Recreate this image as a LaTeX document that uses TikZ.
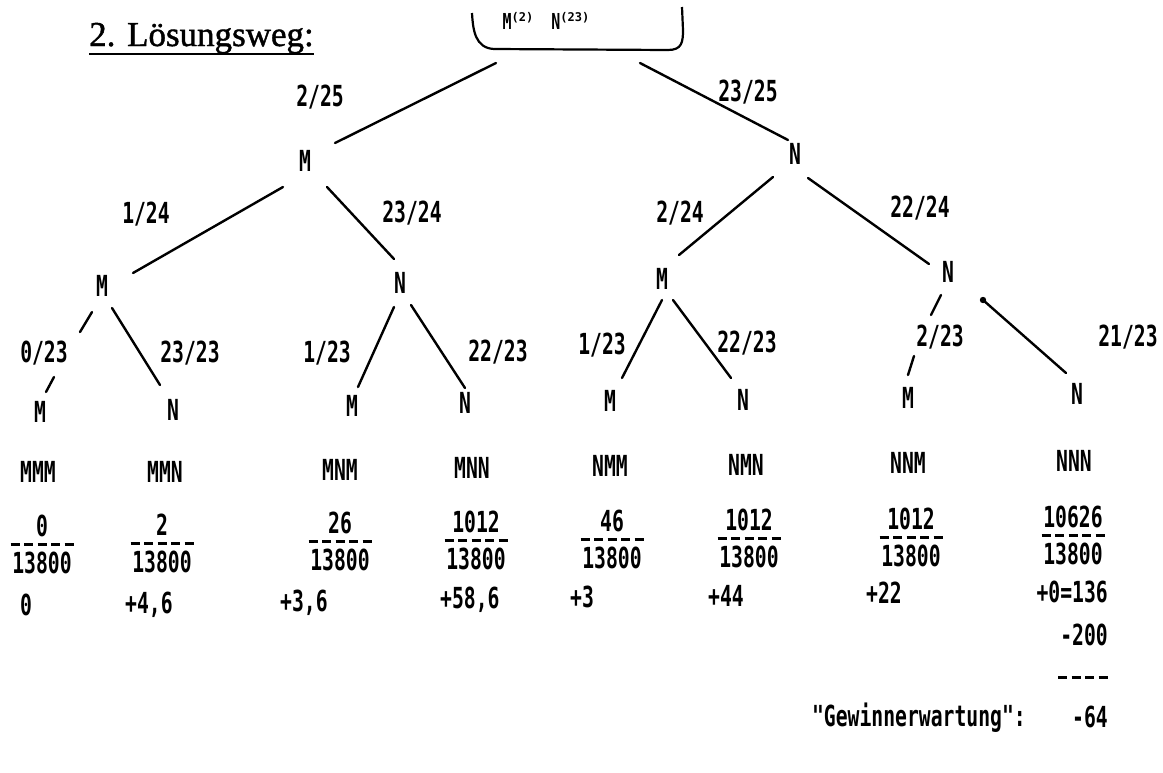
\documentclass[tikz,border=0pt]{standalone}
\usepackage{fontspec}
\usetikzlibrary{calc}
\newfontfamily\dmfont[FakeStretch=0.68]{DejaVu Sans Mono}
\newfontfamily\supfont{DejaVu Sans Mono}
\newfontfamily\titlefont[FakeBold=1.2]{Liberation Serif}
\newcommand{\supx}[1]{\raisebox{8pt}{\supfont\bfseries\fontsize{12}{12}\selectfont #1}}
\tikzset{
  dm/.style={font=\dmfont\bfseries\fontsize{29}{29}\selectfont, inner sep=0pt},
  rootfont/.style={font=\dmfont\bfseries\fontsize{22}{22}\selectfont, inner sep=0pt},
  dashbar/.style={line width=3pt, dash pattern=on 9pt off 4.5pt},
  edge/.style={line width=2.4pt, line cap=round},
}
\begin{document}
\begin{tikzpicture}[x=1pt,y=-1pt]
\useasboundingbox (0,0) rectangle (1163,772);
% title
\node[font=\titlefont\fontsize{35}{35}\selectfont, inner sep=0pt, anchor=base west] (title) at (89,46) {2. Lösungsweg:};
\draw[line width=2.4pt] ($(title.base west)+(0,8)$) -- ($(title.base east)+(0,8)$);
% root
\node[rootfont] (root) at (546,21) {M\supx{(2)}\hspace{18pt}N\supx{(23)}};
\draw[line width=2.2pt] (472,13) .. controls (473,30) and (475,48) .. (494,49) -- (668,50) .. controls (682,50) and (683,42) .. (683,30) -- (682,7);
% tree nodes
\node[dm] (m1) at (305,161) {M};
\node[dm] (n1) at (795,154) {N};
\node[dm] (mm) at (102,286) {M};
\node[dm] (mn) at (400,283) {N};
\node[dm] (nm) at (662,279) {M};
\node[dm] (nn) at (948,272) {N};
\node[dm] (l1) at (40,412) {M};
\node[dm] (l2) at (173,410) {N};
\node[dm] (l3) at (352,406) {M};
\node[dm] (l4) at (465,403) {N};
\node[dm] (l5) at (610,401) {M};
\node[dm] (l6) at (743,400) {N};
\node[dm] (l7) at (908,398) {M};
\node[dm] (l8) at (1077,394) {N};
% edges
\draw[edge] ($(root)+(-50,42)$) -- ($(m1)+(30,-18)$);
\draw[edge] ($(root)+(94,42)$) -- ($(n1)+(-7,-14)$);
\draw[edge] ($(m1)+(-22,26)$) -- ($(mm)+(31,-13)$);
\draw[edge] ($(m1)+(22,26)$) -- ($(mn)+(-6,-24)$);
\draw[edge] ($(n1)+(-22,23)$) -- ($(nm)+(17,-24)$);
\draw[edge] ($(n1)+(13,24)$) -- ($(nn)+(-19,-8)$);
\draw[edge] ($(mm)+(-10,26)$) -- ($(mm)+(-22,46)$);
\draw[edge] ($(l1)+(14,-35)$) -- ($(l1)+(6,-20)$);
\draw[edge] ($(mm)+(10,22)$) -- ($(l2)+(-13,-25)$);
\draw[edge] ($(mn)+(-6,24)$) -- ($(l3)+(6,-19)$);
\draw[edge] ($(mn)+(11,22)$) -- ($(l4)+(0,-15)$);
\draw[edge] ($(nm)+(0,21)$) -- ($(l5)+(12,-23)$);
\draw[edge] ($(nm)+(11,21)$) -- ($(l6)+(-12,-22)$);
\draw[edge] ($(nn)+(-7,23)$) -- ($(nn)+(-17,43)$);
\draw[edge] ($(l7)+(6,-42)$) -- ($(l7)+(0,-23)$);
\fill ($(nn)+(35,28)$) circle (3.2);
\draw[edge] ($(nn)+(35,28)$) -- ($(l8)+(-11,-21)$);
% probability labels
\node[dm] (p1) at (320,97) {2/25};
\node[dm] (p2) at (748,92) {23/25};
\node[dm] (p3) at (146,214) {1/24};
\node[dm] (p4) at (412,213) {23/24};
\node[dm] (p5) at (680,213) {2/24};
\node[dm] (p6) at (920,208) {22/24};
\node[dm] (p7) at (44,353) {0/23};
\node[dm] (p8) at (190,353) {23/23};
\node[dm] (p9) at (327,353) {1/23};
\node[dm] (p10) at (498,352) {22/23};
\node[dm] (p11) at (602,345) {1/23};
\node[dm] (p12) at (747,343) {22/23};
\node[dm] (p13) at (940,337) {2/23};
\node[dm] (p14) at (1128,337) {21/23};
% sequences
\node[dm] (s1) at (38,472) {MMM};
\node[dm] (s2) at (165,472) {MMN};
\node[dm] (s3) at (340,470) {MNM};
\node[dm] (s4) at (472,468) {MNN};
\node[dm] (s5) at (610,466) {NMM};
\node[dm] (s6) at (746,465) {NMN};
\node[dm] (s7) at (908,463) {NNM};
\node[dm] (s8) at (1074,461) {NNN};
% fractions
\foreach \i/\x/\y/\t in {1/42/526/0, 2/162/525/2, 3/340/523/26, 4/476/522/1012, 5/612/521/46, 6/749/520/1012, 7/911/519/1012, 8/1073/517/10626} {
  \node[dm] (fn\i) at (\x,\y) {\t};
  \node[dm] (fd\i) at (\x,\y+37) {13800};
  \draw[dashbar] ($(fd\i)+(-31.5,-18.5)$) -- ++(63,0);
}
% values
\node[dm, anchor=west] (v1) at (20,605) {0};
\node[dm, anchor=west] (v2) at (125,605) {+4,6};
\node[dm, anchor=west] (v3) at (280,603) {+3,6};
\node[dm, anchor=west] (v4) at (440,600) {+58,6};
\node[dm, anchor=west] (v5) at (570,597) {+3};
\node[dm, anchor=west] (v6) at (708,596) {+44};
\node[dm, anchor=west] (v7) at (866,593) {+22};
\node[dm, anchor=east] (v8) at (1108,592) {+0=136};
\node[dm, anchor=east] (v9) at (1108,635) {-200};
\draw[dashbar] ($(v9.east)+(-50,42)$) -- ++(50,0);
\node[dm, anchor=east] (v11) at (1108,717) {-64};
\node[dm, anchor=east] (gw) at (1026,718) {"Gewinnerwartung":};
\end{tikzpicture}
\end{document}
